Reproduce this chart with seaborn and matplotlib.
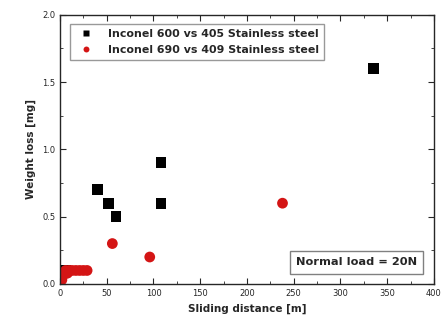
import seaborn as sns
import matplotlib.pyplot as plt
import pandas as pd
from matplotlib.ticker import MultipleLocator

# Inconel 600 vs 405 stainless steel
dist_600 = [3, 6, 40, 52, 60, 108, 108, 335]
loss_600 = [0.1, 0.1, 0.7, 0.6, 0.5, 0.9, 0.6, 1.6]

# Inconel 690 vs 409 stainless steel
dist_690 = [2, 3, 4, 6, 8, 10, 13, 17, 21, 25, 29, 56, 96, 238]
loss_690 = [0.03, 0.06, 0.08, 0.1, 0.08, 0.1, 0.1, 0.1, 0.1, 0.1, 0.1, 0.3, 0.2, 0.6]

labels = ['Inconel 600 vs 405 Stainless steel', 'Inconel 690 vs 409 Stainless steel']

df = pd.DataFrame({
    'dist': dist_600 + dist_690,
    'loss': loss_600 + loss_690,
    'pair': [labels[0]] * len(dist_600) + [labels[1]] * len(dist_690),
})

sns.set_style('ticks')
plt.rcParams['font.family'] = ['DejaVu Sans']

fig = plt.figure(figsize=(4.46, 3.23), dpi=100)
ax = fig.add_axes([0.1345, 0.121, 0.8385, 0.833])

sns.scatterplot(data=df, x='dist', y='loss', hue='pair', style='pair',
                markers={labels[0]: 's', labels[1]: 'o'},
                palette={labels[0]: 'black', labels[1]: '#d41515'},
                s=60, edgecolor='none', ax=ax)

ax.set_xlim(0, 400)
ax.set_ylim(0, 2.0)
ax.xaxis.set_major_locator(MultipleLocator(50))
ax.xaxis.set_minor_locator(MultipleLocator(25))
ax.yaxis.set_major_locator(MultipleLocator(0.5))
ax.yaxis.set_minor_locator(MultipleLocator(0.25))
ax.yaxis.set_major_formatter(plt.FormatStrFormatter('%.1f'))
ax.tick_params(which='both', direction='in', top=True, right=True, labelsize=6)
ax.tick_params(which='major', length=4)
ax.tick_params(which='minor', length=2)
for s in ax.spines.values():
    s.set_linewidth(1.0)

ax.set_xlabel('Sliding distance [m]', fontsize=7.5, fontweight='bold')
ax.set_ylabel('Weight loss [mg]', fontsize=7.5, fontweight='bold')

leg = ax.legend(loc='upper left', fontsize=7.9, markerscale=0.55, frameon=True,
                fancybox=False, edgecolor='gray', handletextpad=1.0,
                borderpad=0.45, bbox_to_anchor=(0.012, 0.985))
for t in leg.get_texts():
    t.set_fontweight('bold')

ax.text(0.955, 0.08, 'Normal load = 20N', transform=ax.transAxes,
        ha='right', va='center', fontsize=8.2, fontweight='bold',
        bbox=dict(boxstyle='square,pad=0.55', fc='white', ec='gray'))

fig.savefig('out.png', dpi=100)
